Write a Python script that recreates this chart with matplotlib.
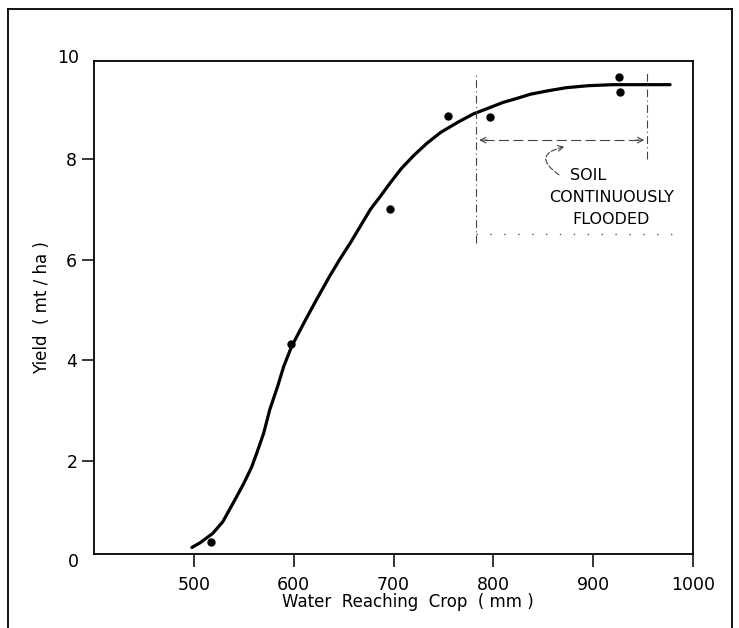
import matplotlib
matplotlib.use('Agg')
import matplotlib.pyplot as plt
from matplotlib.lines import Line2D

# fitted response curve
curve_x = [498, 506, 519, 529, 541, 550, 558, 563, 570, 576, 584, 590, 598,
           612, 623, 636, 646, 657, 667, 677, 687, 697, 708, 720, 733, 747,
           764, 780, 797, 810, 824, 837, 855, 873, 895, 920, 950, 977]
curve_y = [0.29, 0.38, 0.57, 0.80, 1.23, 1.56, 1.89, 2.16, 2.56, 3.02, 3.49, 3.88, 4.28,
           4.81, 5.21, 5.67, 6.00, 6.34, 6.67, 7.00, 7.26, 7.53, 7.81, 8.06, 8.30, 8.52,
           8.72, 8.89, 9.02, 9.12, 9.20, 9.28, 9.35, 9.41, 9.45, 9.47, 9.47, 9.47]

# observed yields
obs_x = [517, 597, 696, 755, 797, 926, 927]
obs_y = [0.39, 4.33, 7.01, 8.84, 8.82, 9.62, 9.32]

xticks = [500, 600, 700, 800, 900, 1000]
yticks = [2, 4, 6, 8]

# flooded zone markers
flood_left = 783
flood_right = 954

fig = plt.figure(figsize=(7.39, 6.28), dpi=100)
ax = fig.add_axes([0.1272, 0.1178, 0.8106, 0.7851])

ax.plot(curve_x, curve_y, color='black', lw=2.3, solid_capstyle='round', solid_joinstyle='round')
ax.plot(obs_x, obs_y, 'o', color='black', ms=5)

ax.set_xlim(400, 1000)
ax.set_ylim(0.16, 9.94)
ax.set_xticks(xticks)
ax.set_yticks(yticks)
ax.tick_params(axis='both', direction='out', length=9, width=1.1, labelsize=12.5, color='black')
ax.tick_params(axis='x', pad=7)
ax.tick_params(axis='y', pad=3)
for s in ax.spines.values():
    s.set_linewidth(1.3)

# the 0 and 10 labels sit off the drawn frame
ytr = ax.get_yaxis_transform()
ax.text(-0.025, 0.0, '0', transform=ytr, ha='right', va='center', fontsize=12.5)
ax.text(-0.025, 10.0, '10', transform=ytr, ha='right', va='center', fontsize=12.5)

ax.set_xlabel('Water  Reaching  Crop  ( mm )', fontsize=12)
ax.xaxis.set_label_coords(0.524, -0.079)
ax.set_ylabel('Yield  ( mt / ha )', fontsize=12)
ax.yaxis.set_label_coords(-0.072, 0.5)

# flooded region annotation
dd = (0, (7, 3, 1, 3))
ax.plot([flood_left, flood_left], [6.32, 9.66], color='#444444', lw=0.8, ls=dd)
ax.plot([flood_right, flood_right], [7.99, 9.72], color='#444444', lw=0.8, ls=dd)
ax.plot([flood_left + 8, flood_right - 8], [8.37, 8.37], color='#444444', lw=0.8, ls=(0, (9, 4)))
ax.annotate('', xy=(flood_left, 8.37), xytext=(flood_left + 14, 8.37),
            arrowprops=dict(arrowstyle='->', lw=0.8, color='#444444'))
ax.annotate('', xy=(flood_right, 8.37), xytext=(flood_right - 14, 8.37),
            arrowprops=dict(arrowstyle='->', lw=0.8, color='#444444'))
ax.plot([flood_left, 979], [6.5, 6.5], color='#555555', lw=1.0, ls=(0, (1, 9)))

ax.annotate('', xy=(874, 8.25), xytext=(868, 7.65),
            arrowprops=dict(arrowstyle='->', lw=0.8, color='#444444', ls=(0, (5, 2)),
                            connectionstyle='arc3,rad=-1.2'))
ax.text(895, 7.66, 'SOIL', ha='center', va='center', fontsize=11.5)
ax.text(918, 7.24, 'CONTINUOUSLY', ha='center', va='center', fontsize=11.5)
ax.text(918, 6.80, 'FLOODED', ha='center', va='center', fontsize=11.5)

# page border of the scan
fig.add_artist(Line2D([8 / 739, 8 / 739], [0, 1 - 9 / 628], transform=fig.transFigure, color='black', lw=1.3))
fig.add_artist(Line2D([8 / 739, 732 / 739], [1 - 9 / 628, 1 - 9 / 628], transform=fig.transFigure, color='black', lw=1.3))
fig.add_artist(Line2D([732 / 739, 732 / 739], [0, 1 - 9 / 628], transform=fig.transFigure, color='black', lw=1.3))

fig.savefig('out.png', dpi=100)
